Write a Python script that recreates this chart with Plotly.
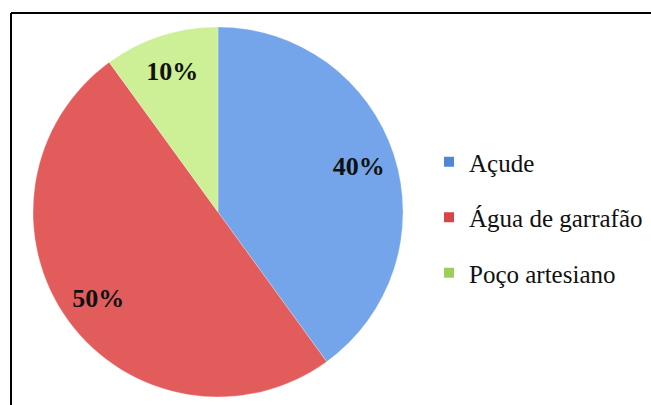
import plotly.graph_objects as go

categories = ["Açude", "Água de garrafão", "Poço artesiano"]
values = [40, 50, 10]
colors = ["#74a5ea", "#e25c5c", "#cdef96"]
legend_colors = ["#4f86d6", "#d94545", "#9ccf5a"]

dom = dict(x=[33/651, 403/651], y=[8/405, 378/405])

fig = go.Figure()
fig.add_trace(go.Pie(
    labels=categories, values=values, sort=False, direction="clockwise", rotation=0,
    marker=dict(colors=colors, line=dict(color="rgba(255,255,255,0.5)", width=0.5)),
    textinfo="none", domain=dom, showlegend=False, hoverinfo="label+percent",
))
# transparent ring used to place the percentage labels toward the rim
fig.add_trace(go.Pie(
    labels=categories, values=values, sort=False, direction="clockwise", rotation=0,
    hole=0.6,
    marker=dict(colors=["rgba(0,0,0,0)"] * 3, line=dict(width=0)),
    textinfo="percent", textposition="inside", insidetextorientation="horizontal",
    textfont=dict(family="Liberation Serif", size=26, color="#111111", weight="bold"),
    domain=dom, showlegend=False, hoverinfo="skip",
))
for name, c in zip(categories, legend_colors):
    fig.add_trace(go.Scatter(
        x=[None], y=[None], mode="markers", name=name, legendgroup=name,
        marker=dict(symbol="square", size=10, color=c),
    ))

fig.add_shape(type="line", xref="paper", yref="paper",
              x0=11/651, x1=1.01, y0=(405-13)/405, y1=(405-13)/405,
              line=dict(color="black", width=2))
fig.add_shape(type="line", xref="paper", yref="paper",
              x0=11/651, x1=11/651, y0=-0.01, y1=(405-13)/405,
              line=dict(color="black", width=2))

fig.update_layout(
    width=651, height=405, margin=dict(l=0, r=0, t=0, b=0),
    paper_bgcolor="white", plot_bgcolor="rgba(0,0,0,0)",
    xaxis=dict(visible=False, domain=[0.99, 1]), yaxis=dict(visible=False, domain=[0.99, 1]),
    legend=dict(x=429/651, y=(405-139)/405, xanchor="left", yanchor="top",
                font=dict(family="Liberation Serif", size=25, color="#111111"),
                tracegroupgap=20, bgcolor="rgba(0,0,0,0)", itemclick=False),
    font=dict(family="Liberation Serif"),
)
fig.write_html("out.html")
